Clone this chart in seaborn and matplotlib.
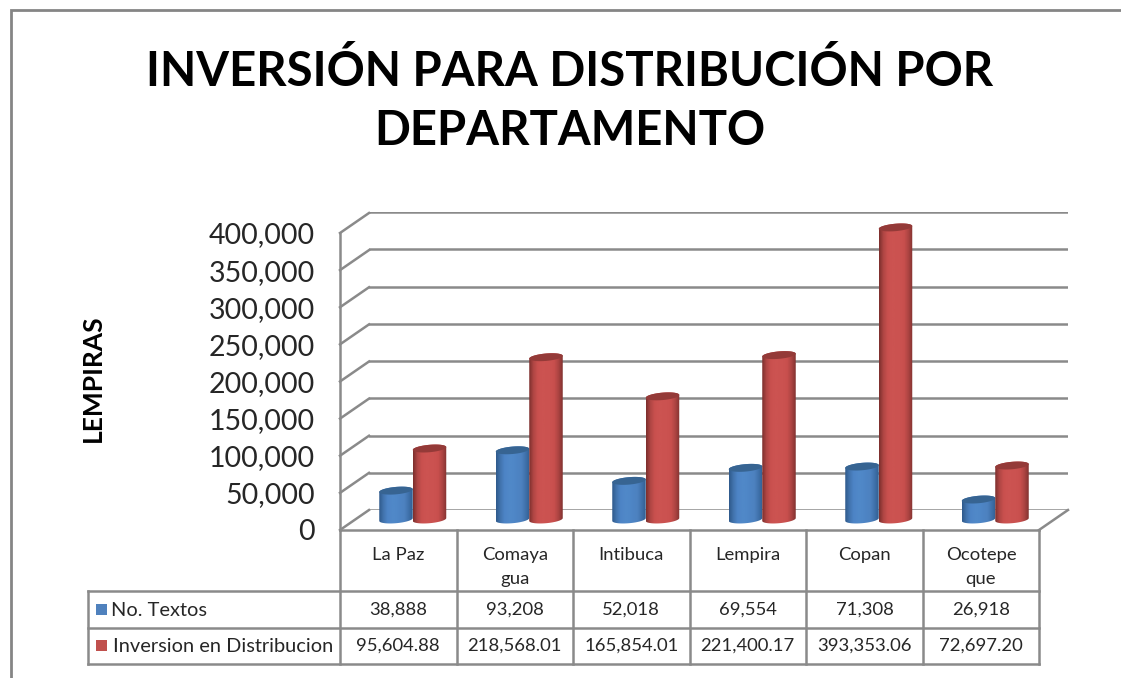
import numpy as np
import pandas as pd
import matplotlib
matplotlib.use("Agg")
import matplotlib.pyplot as plt
from matplotlib.colors import LinearSegmentedColormap
from matplotlib.patches import Polygon, Rectangle
from matplotlib.ticker import FuncFormatter
import seaborn as sns

departments = ["La Paz", "Comayagua", "Intibuca", "Lempira", "Copan", "Ocotepeque"]
cat_labels = ["La Paz", "Comaya\ngua", "Intibuca", "Lempira", "Copan", "Ocotepe\nque"]
textos = [38888, 93208, 52018, 69554, 71308, 26918]
inversion = [95604.88, 218568.01, 165854.01, 221400.17, 393353.06, 72697.20]
series_names = ["No. Textos", "Inversion en Distribucion"]
y_ticks = [0, 50000, 100000, 150000, 200000, 250000, 300000, 350000, 400000]
title = "INVERSIÓN PARA DISTRIBUCIÓN POR\nDEPARTAMENTO"
y_title = "LEMPIRAS"

W, H = 1121, 678
GRID = "#8a8a8a"
TXT = "#262626"
sns.set_style("white")
plt.rcParams["font.family"] = ["Lato", "DejaVu Sans"]

fig = plt.figure(figsize=(W / 100, H / 100), dpi=100, facecolor="white")

def place(x0, x1, ytop, ybot):
    ax = fig.add_axes([x0 / W, 1 - ybot / H, (x1 - x0) / W, (ybot - ytop) / H])
    ax.patch.set_alpha(0)
    return ax

# back wall gridlines
wall = place(369, 1068, 212, 510)
wall.set_ylim(0, 400000)
wall.set_xlim(0, 1)
wall.set_yticks(y_ticks)
wall.set_xticks([])
wall.set_yticklabels([])
wall.tick_params(length=0)
wall.grid(axis="y", color=GRID, lw=1.8)
sns.despine(ax=wall, left=True, bottom=True)

# front plane: value axis
front = place(340, 1039, 233, 530)
front.set_ylim(0, 400000)
front.set_xlim(0, 1)
front.set_yticks(y_ticks)
front.set_xticks([])
front.yaxis.set_major_formatter(FuncFormatter(lambda v, _: f"{v:,.0f}"))
front.tick_params(axis="y", length=0, pad=18, labelsize=20.5, labelcolor=TXT)
sns.despine(ax=front, bottom=True)
front.spines["left"].set_color(GRID)
front.spines["left"].set_linewidth(1.8)
front.set_ylabel(y_title, fontsize=19, fontweight="bold", color="black", labelpad=0)
front.yaxis.set_label_coords((105 - 340) / 699, 0.51)

# overlay in pixel space for frame, depth lines and data table
ov = fig.add_axes([0, 0, 1, 1], zorder=0)
ov.set_xlim(0, W)
ov.set_ylim(H, 0)
ov.axis("off")
ov.patch.set_alpha(0)
line = dict(color=GRID, lw=1.8, solid_capstyle="projecting")
ov.plot([10.5, 10.5, W], [H, 9.5, 9.5], color="#858585", lw=2.0, solid_joinstyle="miter")
for k in range(len(y_ticks)):
    y = 530 - k * (530 - 233) / (len(y_ticks) - 1)
    ov.plot([340, 369], [y, y - 20], **line)
ov.plot([1039, 1068], [530, 510], **line)

table_x = [340, 456.5, 573, 689.5, 806, 923, 1039]
ov.plot([340, 1039], [530, 530], **line)
for x in table_x:
    ov.plot([x, x], [530, 664], **line)
for y in (591, 628, 664):
    ov.plot([88, 1039], [y, y], **line)
ov.plot([88, 88], [591, 664], **line)
CELL = dict(color=TXT, ha="center", va="center")
for i, lab in enumerate(cat_labels):
    cx = (table_x[i] + table_x[i + 1]) / 2
    ov.text(cx, 567 if "\n" in lab else 555, lab, linespacing=1.55, fontsize=13.3, **CELL)
    ov.text(cx, 610, f"{textos[i]:,.0f}", fontsize=13.3, **CELL)
    ov.text(cx, 646, f"{inversion[i]:,.2f}", fontsize=13.3, **CELL)
for name, y, col, x in zip(series_names, (610, 646), ("#4f81bd", "#c0504d"), (111, 113)):
    ov.add_patch(Rectangle((96, y - 6), 11, 11, color=col, lw=0))
    ov.text(x, y, name, fontsize=14.4, color=TXT, ha="left", va="center")

# cylinders
bars = place(354.5, 1053.5, 222.5, 519.5)
bars.set_zorder(3)
df = pd.DataFrame({
    "dept": departments * 2,
    "serie": [series_names[0]] * 6 + [series_names[1]] * 6,
    "valor": textos + inversion,
})
palette = dict(zip(series_names, ("#4f81bd", "#c0504d")))
sns.barplot(data=df, x="dept", y="valor", hue="serie", palette=palette,
            width=0.575, gap=0, legend=False, ax=bars, saturation=1)
bars.set_xlim(-0.5, 5.5)
bars.set_ylim(0, 400000)
bars.axis("off")

ramps = {
    series_names[0]: (["#2f5a8c", "#4274ae", "#4d84c6", "#5088c8", "#5088c8", "#4d84c4", "#4d82c0", "#4072ac", "#335f92"], "#376492"),
    series_names[1]: (["#7d2f2d", "#b04644", "#c9504e", "#cc5351", "#cc5351", "#cb5250", "#c84f4d", "#ac4442", "#823230"], "#943a38"),
}
b_y = 5000   # half height of an end ellipse, in data units
tilt = 1900  # rise of its right end
t = np.linspace(0, 2 * np.pi, 80)
order = [p for p in bars.patches if p.get_height() > 0]
names = [series_names[0]] * 6 + [series_names[1]] * 6
for p, name in zip(order, names):
    x0, w, h = p.get_x(), p.get_width(), p.get_height()
    xm = x0 + w / 2
    p.set_visible(False)
    colors, cap = ramps[name]
    cmap = LinearSegmentedColormap.from_list(name, colors)
    low = np.linspace(np.pi, 2 * np.pi, 40)
    high = np.linspace(0, np.pi, 40)
    ex = lambda a: xm + w / 2 * np.cos(a)
    ey = lambda a, base: base + b_y * np.sin(a) + tilt * np.cos(a)
    outline = np.r_[np.c_[ex(low), ey(low, 0)], np.c_[ex(high), ey(high, h)]]
    z = 3 if name == series_names[0] else 4
    img = bars.imshow(np.linspace(0, 1, 64)[None, :], cmap=cmap, aspect="auto",
                      extent=(x0, x0 + w, -12000, h + 12000), zorder=z, origin="lower")
    img.set_clip_path(Polygon(outline, closed=True, transform=bars.transData))
    img.set_clip_box(fig.bbox)
    bars.fill(ex(t), ey(t, h), color=cap, lw=0, zorder=z + 0.1, clip_on=False)
bars.set_xlim(-0.5, 5.5)
bars.set_ylim(0, 400000)

fig.text(570 / W, 1 - 101 / H, title, fontsize=34, fontweight="bold", color="black",
         ha="center", va="center", linespacing=1.42)
fig.savefig("out.png", dpi=100, facecolor="white")
